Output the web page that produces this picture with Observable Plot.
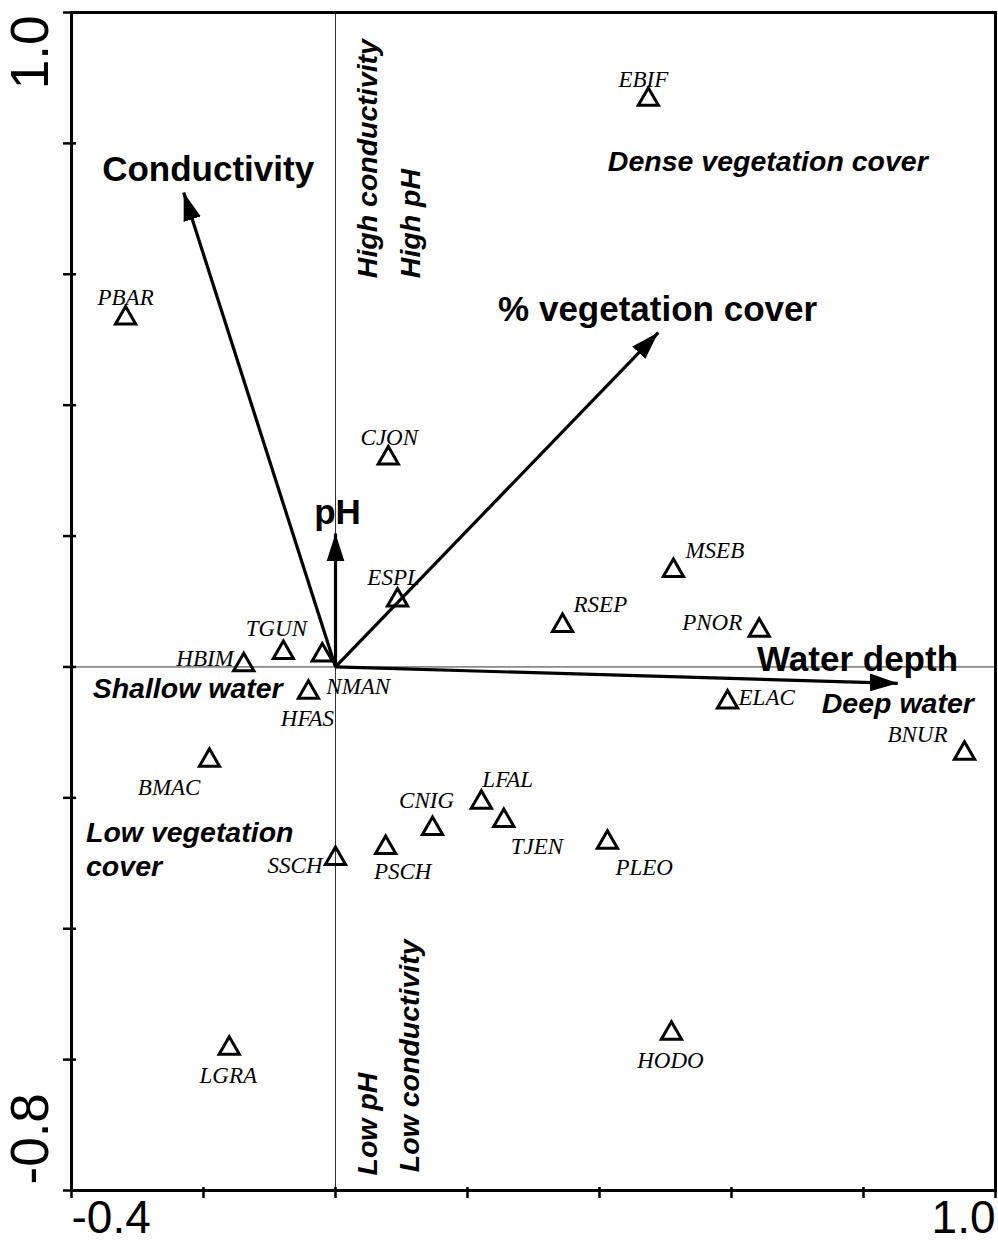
<!DOCTYPE html>
<html><head><meta charset="utf-8">
<script src="https://cdn.jsdelivr.net/npm/d3@7"></script>
<script src="https://cdn.jsdelivr.net/npm/@observablehq/plot@0.6"></script>
<style>
html,body{margin:0;padding:0;background:#fff;}
#chart svg{display:block;}
</style></head><body><div id="chart"></div>
<script>
// ---- Data: site scores (axis 1, axis 2) ----
const sites = ["EBIF","PBAR","CJON","ESPL","RSEP","MSEB","PNOR","ELAC","BNUR","TGUN","HBIM","NMAN","HFAS","BMAC","SSCH","PSCH","CNIG","LFAL","TJEN","PLEO","HODO","LGRA"];
const axis1 = [0.474,-0.318,0.080,0.094,0.344,0.512,0.642,0.594,0.953,-0.079,-0.139,-0.020,-0.041,-0.191,0.000,0.076,0.147,0.221,0.255,0.412,0.509,-0.161];
const axis2 = [0.867,0.533,0.319,0.102,0.063,0.147,0.056,-0.054,-0.132,0.022,0.003,0.018,-0.039,-0.143,-0.293,-0.276,-0.247,-0.207,-0.235,-0.268,-0.560,-0.583];

// ---- Data: environmental vectors ----
const variables = ["Conductivity","pH","% vegetation cover","Water depth"];
const vecX = [-0.230, 0.000, 0.489, 0.852];
const vecY = [0.725, 0.204, 0.511, -0.025];
const varLabelX = [-0.193, 0.003, 0.488, 0.791];
const varLabelY = [0.760, 0.235, 0.545, 0.011];

// ---- Data: annotations ----
const noteText = ["Dense vegetation cover","Shallow water","Deep water"];
const noteX = [0.655,-0.224,0.852];
const noteY = [0.772,-0.034,-0.056];
const leftNoteText = ["Low vegetation\ncover"];
const leftNoteX = [-0.378];
const leftNoteY = [-0.277];
const vNoteText = ["High conductivity","High pH","Low pH","Low conductivity"];
const vNoteX = [0.0485,0.114,0.0485,0.113];
const vNoteY = [0.594,0.594,-0.777,-0.772];

// ---- Axis ticks ----
const xTicks = [-0.4,-0.2,0,0.2,0.4,0.6,0.8,1.0];
const yTicks = [-0.8,-0.6,-0.4,-0.2,0,0.2,0.4,0.6,0.8,1.0];
const xTickLabels = ["-0.4","1.0"];
const xTickLabelVals = [-0.4,1.0];
const yTickLabels = ["1.0","-0.8"];
const yTickLabelVals = [1.0,-0.8];

// ---- label placement (style: pixel offsets) ----
const labelPlacement = {
  EBIF:[-5,-20,"middle"], PBAR:[0,-21,"middle"], CJON:[1,-21,"middle"], ESPL:[-4,-23,"middle"],
  RSEP:[11,-21,"start"], MSEB:[12,-20,"start"], PNOR:[-17,-8,"end"], ELAC:[11,-5,"start"],
  BNUR:[-17,-19,"end"], TGUN:[-7,-24,"middle"], HBIM:[-10,-6,"end"], NMAN:[4,31,"start"],
  HFAS:[-1,26,"middle"], BMAC:[-9,27,"end"], SSCH:[-13,7,"end"], PSCH:[17,24,"middle"],
  CNIG:[-6,-28,"middle"], LFAL:[1,-23,"start"], TJEN:[7,26,"start"], PLEO:[8,25,"start"],
  HODO:[-1,27,"middle"], LGRA:[-1,27,"middle"]
};

const sans = "Liberation Sans, Arial, Helvetica, sans-serif";
const serif = "Liberation Serif, Times New Roman, serif";
const idx = sites.map((d,i)=>i);

const siteLabelMarks = idx.map(i => {
  const [dx, dy, anchor] = labelPlacement[sites[i]];
  return Plot.text([i], {x: j=>axis1[j], y: j=>axis2[j], text: j=>sites[j], dx, dy, textAnchor: anchor,
    fontFamily: serif, fontStyle: "italic", fontSize: 23, fill: "black"});
});

const marks = [
  Plot.ruleX([0], {stroke: "#333", strokeWidth: 1}),
  Plot.ruleY([0], {stroke: "#333", strokeWidth: 1}),
  Plot.link(variables.map((d,i)=>i), {x1: ()=>0, y1: ()=>0, x2: i=>vecX[i], y2: i=>vecY[i], stroke: "black", strokeWidth: 3.2}),
  Plot.dot(idx, {x: i=>axis1[i], y: i=>axis2[i], symbol: "triangle", r: 7.5, stroke: "black", strokeWidth: 3, fill: "none"}),
  ...siteLabelMarks,
  Plot.text(variables.map((d,i)=>i), {x: i=>varLabelX[i], y: i=>varLabelY[i], text: i=>variables[i],
    fontFamily: sans, fontWeight: "bold", fontSize: 35, fill: "black"}),
  Plot.text(noteText.map((d,i)=>i), {x: i=>noteX[i], y: i=>noteY[i], text: i=>noteText[i],
    fontFamily: sans, fontWeight: "bold", fontStyle: "italic", fontSize: 28.5, fill: "black"}),
  Plot.text(leftNoteText.map((d,i)=>i), {x: i=>leftNoteX[i], y: i=>leftNoteY[i], text: i=>leftNoteText[i],
    textAnchor: "start", lineHeight: 1.2, fontFamily: sans, fontWeight: "bold", fontStyle: "italic", fontSize: 28.5, fill: "black"}),
  Plot.text(vNoteText.map((d,i)=>i), {x: i=>vNoteX[i], y: i=>vNoteY[i], text: i=>vNoteText[i],
    rotate: -90, textAnchor: "start", fontFamily: sans, fontWeight: "bold", fontStyle: "italic", fontSize: 28.5, fill: "black"}),
  Plot.axisX(xTicks, {anchor: "bottom", tickSize: 11, dy: -3, tickFormat: () => "", strokeWidth: 2.5, label: null}),
  Plot.axisY(yTicks, {anchor: "left", tickSize: 13, dx: 5, tickFormat: () => "", strokeWidth: 2.5, label: null}),
  Plot.text([0], {x: i=>xTickLabelVals[i], text: i=>xTickLabels[i], frameAnchor: "bottom", dy: 42, textAnchor: "start", fontFamily: sans, fontSize: 46, fill: "black"}),
  Plot.text([1], {x: i=>xTickLabelVals[i], text: i=>xTickLabels[i], frameAnchor: "bottom", dy: 42, textAnchor: "end", fontFamily: sans, fontSize: 46, fill: "black"}),
  Plot.text([0], {y: i=>yTickLabelVals[i], text: i=>yTickLabels[i], frameAnchor: "left", dx: -40, dy: 3, rotate: -90, textAnchor: "end", fontFamily: sans, fontSize: 53, fill: "black"}),
  Plot.text([1], {y: i=>yTickLabelVals[i], text: i=>yTickLabels[i], frameAnchor: "left", dx: -40, dy: -6, rotate: -90, textAnchor: "start", fontFamily: sans, fontSize: 53, fill: "black"}),
  Plot.frame({stroke: "black", strokeWidth: 3})
];

const plot = Plot.plot({
  width: 998, height: 1251,
  marginLeft: 71, marginRight: 3, marginTop: 12, marginBottom: 61,
  style: {background: "#fff", overflow: "visible"},
  x: {domain: [-0.4, 1.0], axis: null},
  y: {domain: [-0.8, 1.0], axis: null},
  marks
});
document.getElementById("chart").appendChild(plot);

// filled arrowheads on the vector links
const svg = d3.select(plot.tagName.toLowerCase() === "svg" ? plot : plot.querySelector("svg"));
const defs = svg.append("defs");
defs.append("marker").attr("id", "head").attr("markerUnits", "userSpaceOnUse")
  .attr("viewBox", "0 -10 30 20").attr("refX", 28).attr("refY", 0)
  .attr("markerWidth", 30).attr("markerHeight", 20).attr("orient", "auto")
  .append("path").attr("d", "M0,-9L28,0L0,9Z").attr("fill", "black");
svg.selectAll('g[aria-label="link"] path, g[aria-label="link"] line').attr("marker-end", "url(#head)");
</script></body></html>
